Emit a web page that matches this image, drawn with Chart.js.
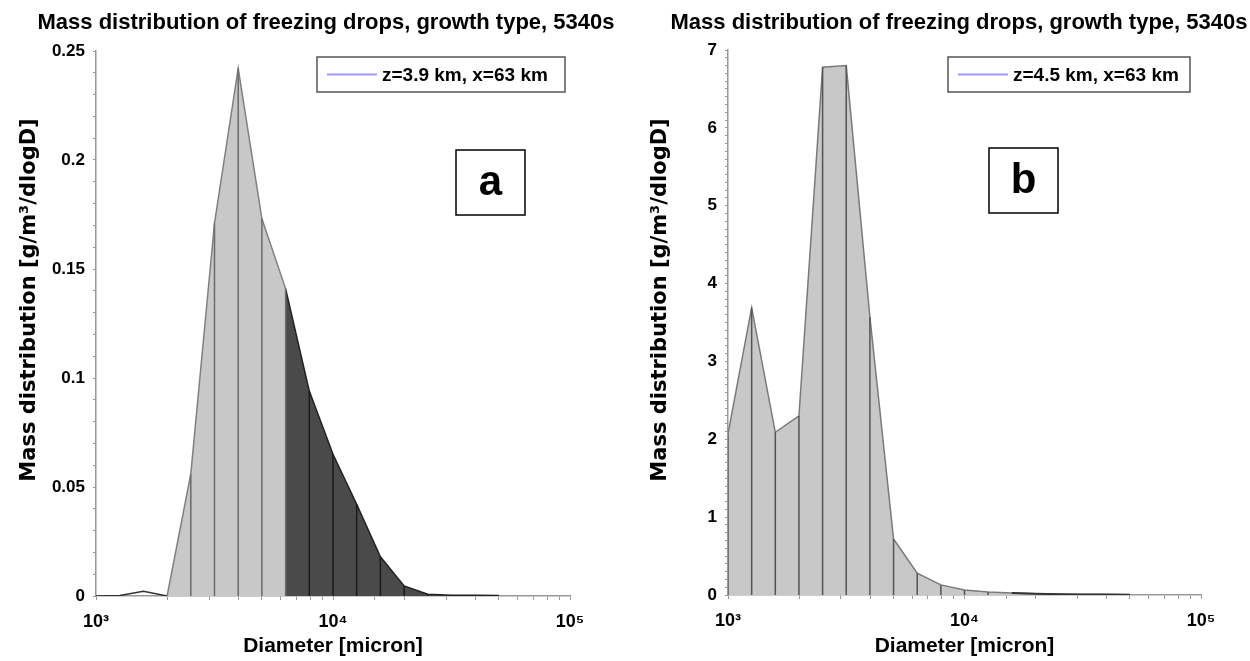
<!DOCTYPE html>
<html>
<head>
<meta charset="utf-8">
<script src="https://cdn.jsdelivr.net/npm/chart.js@4.4.1/dist/chart.umd.min.js"></script>
<style>
  body { margin: 0; background: #fff; }
  #wrap { position: relative; width: 1250px; height: 661px; }
  canvas { position: absolute; top: 0; }
</style>
</head>
<body>
<div id="wrap">
  <canvas id="chartA" width="625" height="661" style="left:0"></canvas>
  <canvas id="chartB" width="625" height="661" style="left:625px"></canvas>
</div>
<script>
// bin diameters (micron), 10 bins per decade
const diameters = [1000, 1259, 1585, 1995, 2512, 3162, 3981, 5012, 6310, 7943,
                   10000, 12589, 15849, 19953, 25119, 31623, 39811, 50119];
// panel a: z=3.9 km
const massA = [0, 0.0002, 0.0022, 0, 0.056, 0.171, 0.242, 0.173, 0.141, 0.094,
               0.065, 0.042, 0.018, 0.0046, 0.0008, 0.0004, 0.0003, 0.0002];
// panel b: z=4.5 km
const massB = [2.07, 3.69, 2.09, 2.30, 6.78, 6.80, 3.57, 0.72, 0.28, 0.13,
               0.065, 0.04, 0.025, 0.016, 0.011, 0.008, 0.006, 0.004];

const decadeTicks = [1000, 10000, 100000];
const decadeLabels = ['10³', '10⁴', '10⁵'];
const yMajorA = [0, 0.05, 0.1, 0.15, 0.2, 0.25];
const yLabelsA = ['0', '0.05', '0.1', '0.15', '0.2', '0.25'];
const yMajorB = [0, 1, 2, 3, 4, 5, 6, 7];
const yLabelsB = ['0', '1', '2', '3', '4', '5', '6', '7'];

const titleText = 'Mass distribution of freezing drops, growth type, 5340s';

function hasFont(name) {
  const c = document.createElement('canvas').getContext('2d');
  c.font = 'bold 40px monospace';
  const a = c.measureText(titleText).width;
  c.font = 'bold 40px "' + name + '", monospace';
  return c.measureText(titleText).width !== a;
}
const narrow = hasFont('Liberation Sans Narrow');
const headFont = narrow ? { family: '"Liberation Sans Narrow"', size: 30 } : { family: '"Liberation Sans"', size: 22 };
const axisFont = narrow ? { family: '"Liberation Sans Narrow"', size: 26 } : { family: '"Liberation Sans"', size: 21 };
const legendFont = narrow ? { family: '"Liberation Sans Narrow"', size: 24 } : { family: '"Liberation Sans"', size: 19 };

Chart.defaults.font.family = '"Liberation Sans", Arial, sans-serif';
Chart.defaults.color = '#000';

function pts(from, to, values) {
  const out = [];
  for (let k = from; k <= to; k++) out.push({ x: diameters[k], y: values[k] });
  return out;
}
function stems(from, to, values) {
  const out = [];
  for (let k = from; k <= to; k++) {
    out.push({ x: diameters[k], y: 0 }, { x: diameters[k], y: values[k] }, { x: diameters[k], y: null });
  }
  return out;
}

// title, y-axis title, legend box and panel tag
const overlay = {
  id: 'overlay',
  afterDraw(chart, args, o) {
    const ctx = chart.ctx;
    ctx.save();
    ctx.fillStyle = '#000';
    ctx.textAlign = 'center';
    ctx.textBaseline = 'middle';
    ctx.font = 'bold ' + headFont.size + 'px ' + headFont.family;
    ctx.fillText(titleText, o.titleX, o.titleY);

    ctx.save();
    ctx.translate(o.yTitleX, o.yTitleY);
    ctx.rotate(-Math.PI / 2);
    ctx.font = 'bold 21px "DejaVu Sans", sans-serif';
    ctx.fillText('Mass distribution [g/m³/dlogD]', 0, 0);
    ctx.restore();

    const [lx, ly, lw, lh] = o.legendBox;
    ctx.fillStyle = '#fff';
    ctx.fillRect(lx, ly, lw, lh);
    ctx.strokeStyle = '#555';
    ctx.lineWidth = 1.5;
    ctx.strokeRect(lx, ly, lw, lh);
    ctx.strokeStyle = '#9a9aff';
    ctx.lineWidth = 2;
    ctx.beginPath();
    ctx.moveTo(lx + 10, ly + lh / 2);
    ctx.lineTo(lx + 60, ly + lh / 2);
    ctx.stroke();
    ctx.fillStyle = '#000';
    ctx.font = 'bold ' + legendFont.size + 'px ' + legendFont.family;
    ctx.textAlign = 'left';
    ctx.fillText(o.legendText, lx + 65, ly + lh / 2 + 1);

    const [tx, ty, tw, th] = o.tagBox;
    ctx.strokeStyle = '#000';
    ctx.lineWidth = 1.5;
    ctx.strokeRect(tx, ty, tw, th);
    ctx.font = 'bold 42px "Liberation Sans", sans-serif';
    ctx.textAlign = 'center';
    ctx.fillText(o.tag, tx + tw / 2, ty + th / 2 + 1);
    ctx.restore();
  }
};

function makeChart(id, cfg) {
  return new Chart(document.getElementById(id), {
    type: 'line',
    data: { datasets: cfg.datasets },
    options: {
      responsive: false,
      animation: false,
      devicePixelRatio: 1,
      layout: { padding: { left: 0, right: cfg.padR, top: cfg.areaTop, bottom: 0 } },
      elements: { point: { radius: 0 }, line: { tension: 0 } },
      plugins: {
        legend: { display: false },
        tooltip: { enabled: false },
        title: { display: false },
        overlay: cfg.overlay
      },
      scales: {
        x: {
          type: 'logarithmic',
          min: 1000,
          max: 100000,
          afterFit: s => { s.height = 661 - cfg.areaBottom; },
          border: { display: true, color: '#999', width: 1.5 },
          grid: { display: true, drawOnChartArea: false, drawTicks: true, tickLength: 4, color: '#999' },
          ticks: {
            autoSkip: false,
            maxRotation: 0,
            padding: 11,
            font: { size: 18, weight: 'bold' },
            callback: v => {
              const i = decadeTicks.findIndex(d => Math.abs(d - v) < 1e-6);
              return i >= 0 ? decadeLabels[i] : '';
            }
          },
          title: {
            display: true,
            text: 'Diameter [micron]',
            font: { family: axisFont.family, size: axisFont.size, weight: 'bold' },
            padding: { top: 0, bottom: 2 }
          }
        },
        y: {
          min: 0,
          max: cfg.yMax,
          afterFit: s => { s.width = cfg.areaLeft; },
          border: { display: true, color: '#999', width: 1.5 },
          grid: { display: true, drawOnChartArea: false, drawTicks: true, tickLength: 3, color: '#999' },
          ticks: {
            autoSkip: false,
            stepSize: cfg.yStep,
            padding: 8,
            font: { size: 17, weight: 'bold' },
            callback: v => {
              const i = cfg.yMajor.findIndex(m => Math.abs(m - v) < 1e-9);
              return i >= 0 ? cfg.yLabels[i] : '';
            }
          }
        }
      }
    },
    plugins: [overlay]
  });
}

// panel a
makeChart('chartA', {
  padR: 55, areaLeft: 96, areaTop: 51, areaBottom: 596,
  yMax: 0.25, yStep: 0.01, yMajor: yMajorA, yLabels: yLabelsA,
  overlay: {
    titleX: 326, titleY: 23,
    yTitleX: 30, yTitleY: 300,
    legendBox: [317, 57, 248, 35], legendText: 'z=3.9 km, x=63 km',
    tagBox: [456, 150, 69, 65], tag: 'a'
  },
  datasets: [
    { data: stems(4, 8, massA), borderColor: '#6a6a6a', borderWidth: 1.5, fill: false },
    { data: stems(9, 14, massA), borderColor: '#1a1a1a', borderWidth: 1.5, fill: false },
    { data: pts(0, 3, massA), borderColor: '#333', borderWidth: 1.5, fill: false },
    { data: pts(8, 17, massA), borderColor: '#222', borderWidth: 1.5, backgroundColor: '#4a4a4a', fill: 'origin' },
    { data: pts(3, 8, massA), borderColor: '#808080', borderWidth: 1.5, backgroundColor: '#c8c8c8', fill: 'origin' }
  ]
});

// panel b
makeChart('chartB', {
  padR: 49, areaLeft: 103, areaTop: 50, areaBottom: 595,
  yMax: 7, yStep: 0.1, yMajor: yMajorB, yLabels: yLabelsB,
  overlay: {
    titleX: 334, titleY: 23,
    yTitleX: 36, yTitleY: 300,
    legendBox: [323, 57, 242, 35], legendText: 'z=4.5 km, x=63 km',
    tagBox: [364, 148, 69, 65], tag: 'b'
  },
  datasets: [
    { data: stems(0, 11, massB), borderColor: '#555', borderWidth: 1.5, fill: false },
    { data: pts(12, 17, massB), borderColor: '#333', borderWidth: 2, fill: false },
    { data: pts(0, 17, massB), borderColor: '#7a7a7a', borderWidth: 1.5, backgroundColor: '#c8c8c8', fill: 'origin' }
  ]
});
</script>
</body>
</html>
